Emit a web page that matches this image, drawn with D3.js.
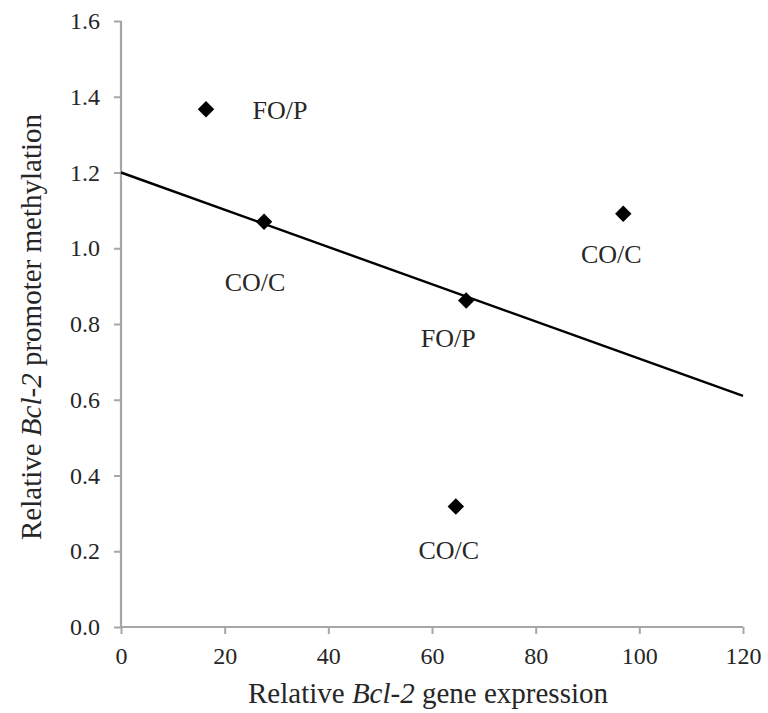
<!DOCTYPE html>
<html lang="en">
  <head>
    <meta charset="utf-8">
    <title>Bcl-2 methylation vs expression</title>
    <style>
      body { margin: 0; background: white; }
      svg text { font-family: "Liberation Serif", "Times New Roman", serif; fill: #262626; }
    </style>
    <script src="https://cdn.jsdelivr.net/npm/d3@7/dist/d3.min.js"></script>
  </head>
  <body>
    <svg id="chart" width="768" height="713"></svg>
    <script>
      // data
      var expression = [16.4, 27.6, 66.6, 96.9, 64.6];
      var methylation = [1.367, 1.070, 0.862, 1.091, 0.318];
      var groups = ["FO/P", "CO/C", "FO/P", "CO/C", "CO/C"];
      // linear trendline endpoints
      var trendX = [0, 120];
      var trendY = [1.2, 0.61];
      var xTicks = [0, 20, 40, 60, 80, 100, 120];
      var yTicks = [0.0, 0.2, 0.4, 0.6, 0.8, 1.0, 1.2, 1.4, 1.6];

      // where each label sits relative to its marker (px)
      var labelOffset = [[74, 1], [-9, 61], [-18, 38], [-12, 41], [-7, 44]];

      var svg = d3.select('#chart');
      var plotL = 121, plotR = 743, plotT = 21, plotB = 627;

      var x = d3.scaleLinear().domain([0, 120]).range([plotL, plotR]);
      var y = d3.scaleLinear().domain([0, 1.6]).range([plotB, plotT]);

      var axisColor = '#a6a6a6';

      var xAxis = svg.append('g')
          .attr('transform', 'translate(0,' + plotB + ')')
          .call(d3.axisBottom(x).tickValues(xTicks).tickSize(7).tickPadding(13)
                .tickFormat(d3.format('d')));
      var yAxis = svg.append('g')
          .attr('transform', 'translate(' + plotL + ',0)')
          .call(d3.axisLeft(y).tickValues(yTicks).tickSize(7).tickPadding(14)
                .tickFormat(d3.format('.1f')));

      [xAxis, yAxis].forEach(function(ax) {
        ax.select('.domain').attr('stroke', axisColor).attr('stroke-width', 2.2)
          .attr('d', ax === xAxis ? 'M' + plotL + ',0H' + plotR : 'M0,' + plotT + 'V' + plotB);
        ax.selectAll('.tick line').attr('stroke', axisColor).attr('stroke-width', 2);
        ax.selectAll('.tick text').style('font-size', '24px')
          .style('font-family', '"Liberation Serif", serif').attr('fill', '#303030');
      });

      // trendline
      svg.append('line')
          .attr('x1', x(trendX[0])).attr('y1', y(trendY[0]))
          .attr('x2', x(trendX[1])).attr('y2', y(trendY[1]))
          .attr('stroke', 'black').attr('stroke-width', 2.4);

      // diamond markers
      var pts = d3.range(expression.length);
      svg.selectAll('path.pt').data(pts).enter().append('path')
          .attr('class', 'pt')
          .attr('d', d3.symbol().type(d3.symbolSquare).size(135))
          .attr('transform', function(i) {
            return 'translate(' + x(expression[i]) + ',' + y(methylation[i]) + ') rotate(45)';
          })
          .attr('fill', 'black');

      svg.selectAll('text.lab').data(pts).enter().append('text')
          .attr('class', 'lab')
          .attr('x', function(i) { return x(expression[i]) + labelOffset[i][0]; })
          .attr('y', function(i) { return y(methylation[i]) + labelOffset[i][1]; })
          .attr('text-anchor', 'middle')
          .attr('dominant-baseline', 'central')
          .style('font-size', '26px')
          .text(function(i) { return groups[i]; });

      // axis titles
      var xt = svg.append('text')
          .attr('x', 428).attr('y', 703)
          .attr('text-anchor', 'middle').style('font-size', '29px');
      xt.append('tspan').text('Relative ');
      xt.append('tspan').style('font-style', 'italic').text('Bcl-2');
      xt.append('tspan').text(' gene expression');

      var yt = svg.append('text')
          .attr('transform', 'translate(41,327) rotate(-90)')
          .attr('text-anchor', 'middle').style('font-size', '29px');
      yt.append('tspan').text('Relative ');
      yt.append('tspan').style('font-style', 'italic').text('Bcl-2');
      yt.append('tspan').text(' promoter methylation');
    </script>
  </body>
</html>
